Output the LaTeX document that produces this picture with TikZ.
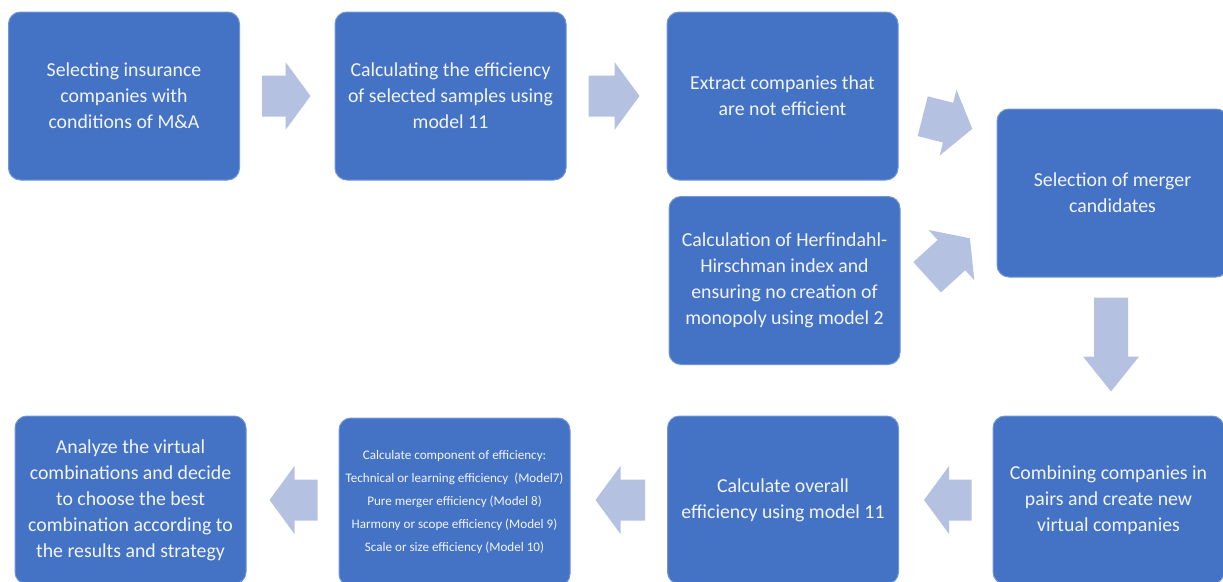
\documentclass[tikz,border=0pt]{standalone}
\usepackage{fontspec}
\setmainfont{Carlito}
\usetikzlibrary{calc}

\definecolor{boxblue}{HTML}{4472C4}
\definecolor{boxline}{HTML}{7096D6}
\definecolor{arrowblue}{HTML}{B4C1E1}
\definecolor{boxtext}{HTML}{F2F5FB}

% block arrow from #1 to #2, leaving a gap of #3 at the start and #4 at the end
\def\shafthalf{20.5pt}
\def\headhalf{34pt}
\def\headlen{25pt}
\newcommand{\flowarrow}[4]{%
  \coordinate (fa-s) at ($(#1)!#3!(#2)$);
  \coordinate (fa-e) at ($(#2)!#4!(#1)$);
  \coordinate (fa-h) at ($(fa-e)!\headlen!(fa-s)$);
  \fill[arrowblue] ($(fa-s)!\shafthalf!90:(fa-e)$) -- ($(fa-h)!\shafthalf!-90:(fa-s)$)
    -- ($(fa-h)!\headhalf!-90:(fa-s)$) -- (fa-e) -- ($(fa-h)!\headhalf!90:(fa-s)$)
    -- ($(fa-h)!\shafthalf!90:(fa-s)$) -- ($(fa-s)!\shafthalf!-90:(fa-e)$) -- cycle;}

\begin{document}
\begin{tikzpicture}[x=1pt, y=-1pt,
  stage/.style={draw=boxline, line width=1pt, fill=boxblue, rounded corners=12pt,
    minimum width=231pt, minimum height=168pt, inner sep=0pt,
    text=boxtext, align=center, font=\fontsize{19.8}{26}\selectfont},
  smallstage/.style={stage, font=\fontsize{13.1}{23}\selectfont}]
  \useasboundingbox (0,0) rectangle (1223,581);
  \clip (0,0) rectangle (1223,581);

  % top row
  \node[stage] (select) at (124,96) {Selecting insurance\\companies with\\conditions of M\&A};
  \node[stage] (effsample) at (450.5,96) {Calculating the efficiency\\of selected samples using\\model 11};
  \node[stage] (extract) at (782.5,96) {Extract companies that\\are not efficient};
  \node[stage] (hhi) at (784.5,280.5) {Calculation of Herfindahl-\\Hirschman index and\\ensuring no creation of\\monopoly using model 2};
  \node[stage] (candidates) at (1112.5,193) {Selection of merger\\candidates};

  % bottom row
  \node[stage] (combine) at (1108.5,500) {Combining companies in\\pairs and create new\\virtual companies};
  \node[stage] (overall) at (783,500) {Calculate overall\\efficiency using model 11};
  \node[smallstage] (component) at (454.5,502) {Calculate component of efficiency:\\Technical or learning efficiency~~(Model7)\\Pure merger efficiency (Model 8)\\Harmony or scope efficiency (Model 9)\\Scale or size efficiency (Model 10)};
  \node[stage] (analyze) at (130.5,500) {Analyze the virtual\\combinations and decide\\to choose the best\\combination according to\\the results and strategy};

  % end points of the arrows
  \coordinate (extract-out) at ([yshift=-14pt]extract.east);
  \coordinate (cand-in1) at ([yshift=58pt]candidates.west);
  \coordinate (hhi-out) at ([yshift=-21pt]hhi.east);
  \coordinate (cand-in2) at ([yshift=-21pt]candidates.west);
  \coordinate (cand-out) at ([xshift=-1.5pt]candidates.south);
  \coordinate (combine-in) at (cand-out |- combine.north);
  \coordinate (component-in) at (overall.west -| component.east);
  \coordinate (component-out) at (component.west |- overall.west);
  \coordinate (analyze-in) at (overall.west -| analyze.east);

  % block arrows
  \flowarrow{select.east}{effsample.west}{22pt}{24pt}
  \flowarrow{effsample.east}{extract.west}{22pt}{27pt}
  \flowarrow{extract-out}{cand-in1}{25pt}{25pt}
  \flowarrow{hhi-out}{cand-in2}{36pt}{36pt}
  \flowarrow{combine.west}{overall.east}{21pt}{25pt}
  \flowarrow{overall.west}{component-in}{22pt}{25pt}
  \flowarrow{component-out}{analyze-in}{21pt}{23pt}
  \def\shafthalf{17pt}
  \def\headhalf{28pt}
  \def\headlen{35pt}
  \flowarrow{cand-out}{combine-in}{20pt}{24pt}
\end{tikzpicture}
\end{document}
